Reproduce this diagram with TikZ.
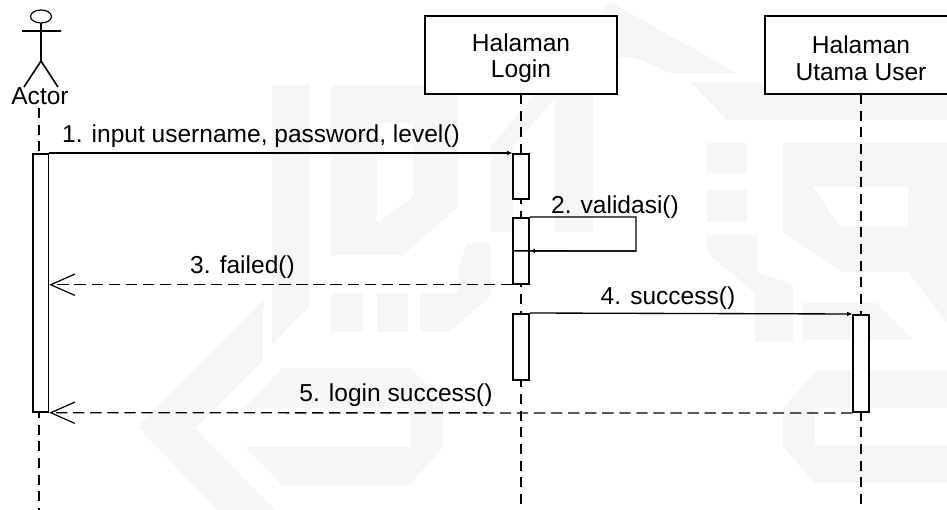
\documentclass[tikz,border=0pt]{standalone}
\usepackage{fontspec}
\setmainfont{Liberation Sans}
\usetikzlibrary{arrows.meta}
\newcommand{\boxstrut}{\rule{0pt}{18pt}}
\tikzset{
  lbl/.style={font=\fontsize{18.4}{20}\selectfont,inner sep=0pt,align=center},
  objbox/.style={draw=black,line width=1.3pt,fill=white,minimum width=144pt,minimum height=58.5pt,inner sep=0pt,align=center,font=\fontsize{18.4}{20}\selectfont},
  life/.style={draw=black,line width=1.4pt,dash pattern=on 7.5pt off 5pt},
  act/.style={draw=black,line width=1.3pt,fill=white,minimum width=11.5pt,inner sep=0pt},
  msg/.style={draw=black,line width=1pt,-{Latex[length=4pt,width=3.5pt]}},
  plain/.style={draw=black,line width=1pt},
  ret/.style={draw=black,line width=1pt,dash pattern=on 8.5pt off 4.3pt,-{Straight Barb[length=18pt,width=16pt,line width=0.9pt]}},
  wm/.style={fill=black!3.5,draw=none,even odd rule},
}
\begin{document}
\begin{tikzpicture}[x=0.75pt,y=-0.75pt]
\useasboundingbox (0,0) rectangle (947,510);
\clip (0,0) rectangle (947,510);
% faint watermark
\fill[wm] (272,85) -- (310,85) -- (310,305) -- (272,345) -- cycle;
\fill[wm] (331,85) -- (458,85) -- (458,207) -- (403,255) -- (331,255) -- cycle (377,123) -- (413,123) -- (413,197) -- (377,223) -- cycle;
\fill[wm] (331,293) rectangle (363,332) (377,293) rectangle (408,332);
\fill[wm] (420,293) -- (458,293) -- (458,272) -- (467,243) -- (491,243) -- (491,295) -- (450,332) -- (420,332) -- cycle;
\fill[wm] (263,300) -- (138,427) -- (217,510) -- (275,510) -- (195,428) -- (263,360) -- cycle;
\fill[wm] (282,368) -- (410,368) -- (443,400) -- (443,447) -- (410,485) -- (282,485) -- (245,447) -- (410,447) -- (410,408) -- (245,408) -- cycle;
\fill[wm] (491,232) -- (491,147) -- (610,2) -- (737,73) -- (670,73) -- (633,57) -- (593,57) -- (593,232) -- (555,232) -- (555,98) -- (513,147) -- (513,232) -- cycle;
\fill[wm] (690,82) -- (947,82) -- (947,120) -- (727,120) -- cycle;
\fill[wm] (707,143) rectangle (747,173) (707,190) rectangle (747,222);
\fill[wm] (707,235) -- (757,235) -- (757,272) -- (793,285) -- (793,342) -- (755,342) -- (755,293) -- (707,253) -- cycle;
\fill[wm] (783,143) -- (947,143) -- (947,323) -- (908,272) -- (843,272) -- (783,233) -- cycle (813,187) -- (908,187) -- (908,227) -- (840,227) -- cycle;
\fill[wm] (803,303) -- (877,303) -- (913,340) -- (803,340) -- cycle;
\fill[wm] (817,370) -- (947,370) -- (947,408) -- (815,408) -- (815,445) -- (947,445) -- (947,483) -- (815,483) -- (783,447) -- (783,408) -- cycle;
% lifelines
\coordinate (al) at (39,108);
\coordinate (alb) at (39,512);
\coordinate (ll) at (521,94);
\coordinate (llb) at (521,512);
\coordinate (ul) at (861,94);
\coordinate (ulb) at (861,512);
\draw[life] (al) -- (alb);
\draw[life] (ll) -- (llb);
\draw[life] (ul) -- (ulb);
% actor
\draw[black,line width=0.9pt] (41,16.5) ellipse (10.5 and 6.5);
\coordinate (neck) at (41,23);
\coordinate (hip) at (41,61);
\coordinate (arml) at (22,31);
\coordinate (armr) at (61,31);
\coordinate (legl) at (24,87);
\coordinate (legr) at (58,87);
\draw[black,line width=1.2pt] (neck) -- (hip) (arml) -- (armr) (legl) -- (hip) -- (legr);
\node[lbl,anchor=base] (actor) at (40,105) {Actor};
% boxes
\node[objbox] (login) at (521,55) {\boxstrut Halaman\\Login};
\node[objbox] (user) at (861,55) {\boxstrut Halaman\\Utama User};
% activations
\node[act,minimum height=193.5pt,anchor=north] (a0) at (40.8,153) {};
\node[act,minimum height=33.8pt,anchor=north] (b1) at (521,153) {};
\node[act,minimum height=49.5pt,anchor=north] (b2) at (521,217) {};
\node[act,minimum height=49.5pt,anchor=north] (b3) at (521,313) {};
\node[act,minimum height=73pt,anchor=north] (c1) at (861,314) {};
% messages
\draw[msg] (a0.north east) -- (b1.north west);
\node[lbl,anchor=base] (m1) at (261,142.7) {1. input username, password, level()};
\coordinate (lp1) at (636,217);
\coordinate (lp2) at (636,251);
\draw[plain] (b2.north east) -- (lp1) -- (lp2) -- (b2.west);
\draw[msg] (lp2) -- (b2.east);
\node[lbl,anchor=base] (m2) at (615,213) {2. validasi()};
\draw[ret] (b2.south west) -- (a0.east |- b2.south);
\node[lbl,anchor=base] (m3) at (242.5,273) {3. failed()};
\draw[msg] (b3.north east) -- (c1.north west);
\node[lbl,anchor=base] (m4) at (668,304) {4. success()};
\draw[ret] (c1.south west) -- (a0.south east);
\node[lbl,anchor=base] (m5) at (396,401.7) {5. login success()};
\end{tikzpicture}
\end{document}
